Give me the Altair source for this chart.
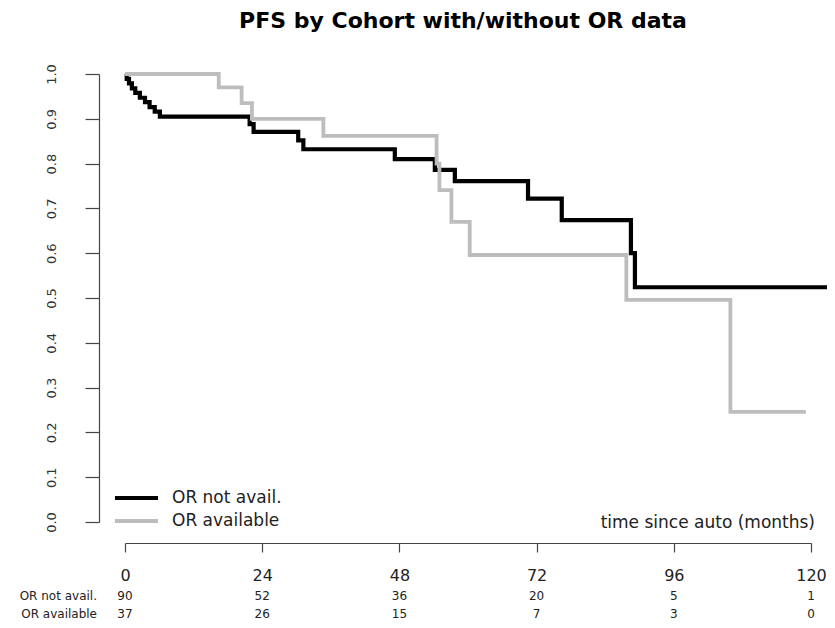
import altair as alt
import pandas as pd

# ---- data ----
groups = ["OR not avail.", "OR available"]
colors = ["#000000", "#bdbdbd"]

not_avail_time = [0, 0.3, 0.7, 1.2, 1.8, 2.6, 3.5, 4.3, 5.2, 6.1, 21.8, 22.5,
                  30.3, 31.2, 47.2, 54.2, 57.7, 70.5, 76.4, 88.5, 89.2, 123.5]
not_avail_surv = [1.0, 0.989, 0.979, 0.968, 0.958, 0.947, 0.937, 0.926, 0.916,
                  0.905, 0.888, 0.871, 0.852, 0.832, 0.810, 0.786, 0.761, 0.722,
                  0.674, 0.600, 0.524, 0.524]

avail_time = [0, 16.4, 20.4, 22.2, 34.7, 54.5, 55.0, 57.1, 60.3, 87.7, 105.9, 119.1]
avail_surv = [1.0, 0.970, 0.935, 0.900, 0.862, 0.800, 0.741, 0.670, 0.596, 0.496,
              0.246, 0.246]

risk_times = [0, 24, 48, 72, 96, 120]
risk_not_avail = [90, 52, 36, 20, 5, 1]
risk_avail = [37, 26, 15, 7, 3, 0]

x_ticks = [0, 24, 48, 72, 96, 120]
y_ticks = [0.0, 0.1, 0.2, 0.3, 0.4, 0.5, 0.6, 0.7, 0.8, 0.9, 1.0]

title_text = "PFS by Cohort with/without OR data"
x_note = "time since auto (months)"

FONT = "DejaVu Sans"

# ---- tables ----
df_not = pd.DataFrame({"time": not_avail_time, "surv": not_avail_surv, "group": groups[0]})
df_av = pd.DataFrame({"time": avail_time, "surv": avail_surv, "group": groups[1]})
risk_df = pd.DataFrame({"time": risk_times, "n1": risk_not_avail, "n2": risk_avail})

x_scale = alt.Scale(domain=[0, 120], nice=False, zero=False)
y_scale = alt.Scale(domain=[0, 1], nice=False, zero=False)

x_axis = alt.Axis(values=x_ticks, title=None, grid=False, offset=21, tickSize=9,
                  labelFont=FONT, labelFontSize=16, labelPadding=15,
                  labelColor="#222222", domainColor="#444444", tickColor="#444444",
                  domainWidth=1.2, tickWidth=1.2, labelOverlap=False, labelFlush=False)
y_axis = alt.Axis(values=y_ticks, format=".1f", title=None, grid=False, offset=26,
                  tickSize=14, labelAngle=270, labelAlign="center", labelBaseline="middle",
                  labelPadding=34, labelFont=FONT, labelFontSize=13, labelColor="#333333",
                  domainColor="#444444", tickColor="#444444", domainWidth=1.2, tickWidth=1.2,
                  labelOverlap=False, labelFlush=False)

X = alt.X("time:Q", scale=x_scale, axis=x_axis)
Y = alt.Y("surv:Q", scale=y_scale, axis=y_axis)

def km_line(df, color, width):
    return alt.Chart(df).mark_line(
        interpolate="step-after", color=color, strokeWidth=width,
        strokeCap="butt", strokeJoin="miter"
    ).encode(x=X, y=Y)

line_black = km_line(df_not, colors[0], 4.2)
line_gray = km_line(df_av, colors[1], 3.8)

# legend (bottom-left inside the plot)
legend_layers = []
for i, (lab, col) in enumerate(zip(groups, colors)):
    ld = pd.DataFrame({"label": [lab]})
    yy = 424 + 23 * i
    legend_layers.append(
        alt.Chart(ld).mark_rule(color=col, strokeWidth=4.2 if i == 0 else 3.8).encode(
            x=alt.value(-10), x2=alt.value(33), y=alt.value(yy))
    )
    legend_layers.append(
        alt.Chart(ld).mark_text(align="left", baseline="middle", font=FONT,
                                fontSize=17, color="#222222").encode(
            x=alt.value(47), y=alt.value(yy), text="label:N")
    )

note = alt.Chart(pd.DataFrame({"t": [x_note]})).mark_text(
    align="right", baseline="middle", font=FONT, fontSize=17, color="#222222"
).encode(x=alt.value(690), y=alt.value(449), text="t:N")

# number-at-risk table
risk_layers = []
for i, (lab, col) in enumerate(zip(groups, ["n1", "n2"])):
    yy = 522 + 18 * i
    risk_layers.append(
        alt.Chart(pd.DataFrame({"label": [lab]})).mark_text(
            align="right", baseline="middle", font=FONT, fontSize=12, color="#222222"
        ).encode(x=alt.value(-28), y=alt.value(yy), text="label:N")
    )
    risk_layers.append(
        alt.Chart(risk_df).mark_text(
            align="center", baseline="middle", font=FONT, fontSize=12, color="#222222"
        ).encode(x=X, y=alt.value(yy), text=alt.Text(f"{col}:Q"))
    )

chart = alt.layer(
    line_black, line_gray, *legend_layers, note, *risk_layers
).properties(
    width=686, height=448,
    title=alt.TitleParams(title_text, font=FONT, fontSize=22, fontWeight="bold",
                          anchor="middle", offset=31, dx=-5, color="#000000"),
    autosize=alt.AutoSizeParams(type="none"),
    padding={"left": 117, "top": 66, "right": 16, "bottom": 98},
).configure(background="white").configure_view(stroke=None)

chart.save("out.html", embed_options={"renderer": "svg", "actions": False})
